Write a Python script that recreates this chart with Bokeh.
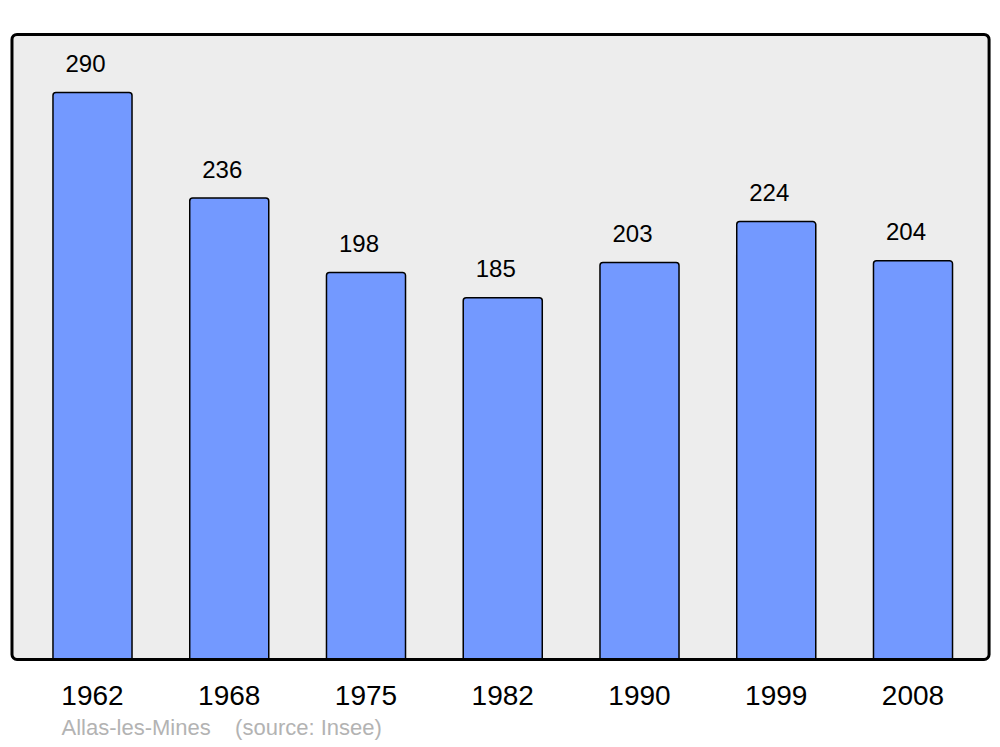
from bokeh.plotting import figure
from bokeh.models import Range1d, FixedTicker, BoxAnnotation, Title, ColumnDataSource
from bokeh.core.properties import value
from bokeh.embed import file_html
from bokeh.resources import INLINE

years = ["1962", "1968", "1975", "1982", "1990", "1999", "2008"]
population = [290, 236, 198, 185, 203, 224, 204]
caption = "Allas-les-Mines\u00a0\u00a0\u00a0\u00a0(source: Insee)"

xs = list(range(len(years)))
src = ColumnDataSource(dict(x=xs, top=population, label=[str(v) for v in population]))

FONT = "Liberation Sans"

p = figure(width=992, height=747, output_backend="svg", toolbar_location=None,
           x_range=Range1d(-0.6069, 6.574), y_range=Range1d(-1.023, 320.7),
           min_border_left=9, min_border_right=1, min_border_top=32, min_border_bottom=86)
p.background_fill_color = None
p.border_fill_color = "white"
p.outline_line_color = None
p.grid.visible = False
p.yaxis.visible = False

BOX = dict(left=-0.5887, right=6.5563, bottom=0, top=319.7, border_radius=5)
frame_fill = BoxAnnotation(fill_color="#ededed", fill_alpha=1, line_color=None,
                           level="underlay", **BOX)
frame_line = BoxAnnotation(fill_color=None, fill_alpha=0, line_color="black", line_width=3,
                           line_alpha=1, level="overlay", **BOX)
p.add_layout(frame_fill)

p.vbar(x="x", top="top", bottom=0, width=0.578, source=src, fill_color="#7399ff",
       line_color="black", line_width=1.5, border_radius=[3, 3, 0, 0])

p.text(x="x", y="top", text="label", source=src, text_align="center", text_baseline="middle",
       x_offset=-7, y_offset=-29, text_font=value(FONT), text_font_size="24px",
       text_color="black")

p.add_layout(frame_line)

xa = p.xaxis[0]
xa.ticker = FixedTicker(ticks=xs)
xa.major_label_overrides = {i: y for i, y in zip(xs, years)}
xa.axis_line_color = None
xa.major_tick_line_color = None
xa.minor_tick_line_color = None
xa.major_label_text_font = FONT
xa.major_label_text_font_size = "28px"
xa.major_label_text_color = "black"
xa.major_label_standoff = 18

t = Title(text=caption, align="left", text_font=FONT, text_font_size="22px",
          text_font_style="normal", text_color="#b3b3b3", offset=52, standoff=11)
p.add_layout(t, "below")

open("out.html", "w").write(file_html(p, INLINE))
